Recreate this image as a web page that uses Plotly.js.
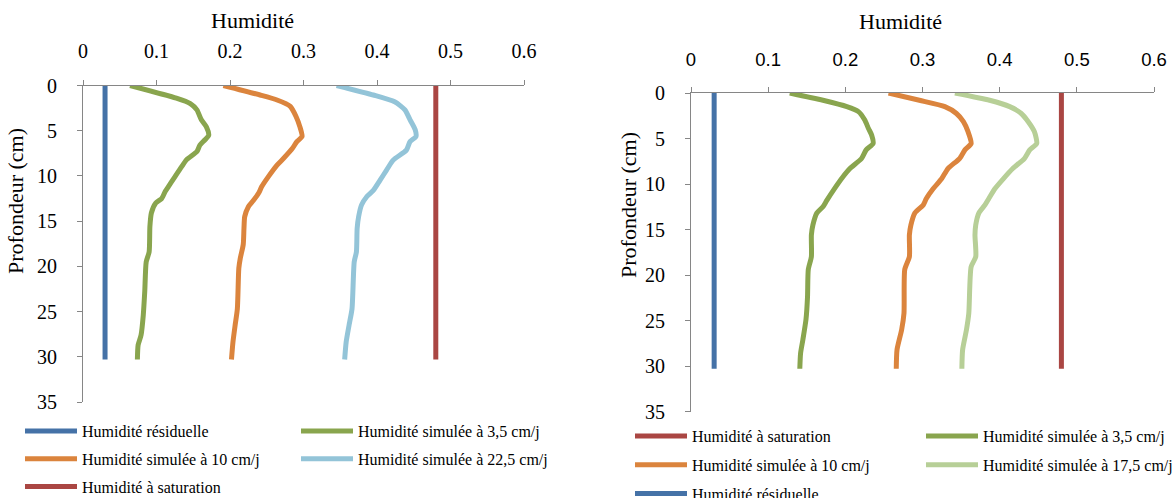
<!DOCTYPE html>
<html>
<head>
<meta charset="utf-8">
<script src="https://cdn.plot.ly/plotly-3.0.1.min.js"></script>
<style>
  html, body { margin: 0; padding: 0; background: #ffffff; }
  #chart { width: 1172px; height: 498px; }
</style>
</head>
<body>
<div id="chart"></div>
<script>
// Profils d'humidité simulés (profondeur en cm, humidité volumique)

// Bornes communes
const depthBounds = [0, 30.3];
const humResiduelle = [0.03, 0.03];
const humSaturation = [0.48, 0.48];

// Graphique de gauche
const depthA35 = [0, 1.4, 2.0, 2.7, 3.8, 4.6, 5.5, 6.0, 6.6, 7.3, 8.2, 9.0, 10.1, 11.2, 11.7, 12.5, 13.0, 14.1, 15.6, 18.4, 19.5, 22.8, 25.4, 27.6, 28.7, 30.3];
const humA35   = [0.064, 0.127, 0.146, 0.155, 0.161, 0.168, 0.171, 0.166, 0.159, 0.155, 0.141, 0.134, 0.125, 0.116, 0.112, 0.107, 0.099, 0.093, 0.091, 0.090, 0.086, 0.084, 0.082, 0.079, 0.075, 0.074];

const depthA10 = [0, 1.05, 1.6, 2.3, 3.45, 4.55, 5.65, 6.2, 6.95, 8.05, 8.8, 10.1, 11.2, 11.9, 12.7, 13.4, 14.5, 15.8, 17.6, 19.1, 20.2, 24.7, 26.5, 28.4, 30.3];
const humA10   = [0.191, 0.241, 0.264, 0.282, 0.290, 0.295, 0.298, 0.291, 0.285, 0.273, 0.264, 0.252, 0.243, 0.239, 0.232, 0.225, 0.220, 0.219, 0.218, 0.214, 0.212, 0.210, 0.207, 0.204, 0.202];

const depthA225 = [0, 1.05, 1.8, 2.7, 3.8, 4.9, 5.65, 6.2, 7.15, 8.25, 9.35, 10.5, 11.6, 12.3, 13.2, 14.5, 15.8, 18.4, 19.5, 24.7, 26.5, 28.4, 30.3];
const humA225   = [0.345, 0.395, 0.424, 0.438, 0.445, 0.452, 0.453, 0.445, 0.440, 0.422, 0.413, 0.404, 0.395, 0.386, 0.379, 0.375, 0.373, 0.372, 0.369, 0.366, 0.362, 0.358, 0.356];

// Graphique de droite
const depthB35 = [0, 0.8, 1.5, 2.05, 2.95, 3.9, 4.6, 5.55, 6.25, 7.2, 8.3, 9.2, 10.5, 11.8, 12.5, 13.2, 14.5, 15.6, 18.0, 19.4, 22.4, 24.9, 27.1, 28.6, 30.3];
const humB35   = [0.128, 0.171, 0.202, 0.217, 0.225, 0.230, 0.234, 0.236, 0.227, 0.221, 0.206, 0.197, 0.186, 0.176, 0.171, 0.163, 0.158, 0.156, 0.156, 0.152, 0.151, 0.149, 0.145, 0.142, 0.141];

const depthB10 = [0, 0.8, 1.5, 2.25, 3.15, 4.25, 5.55, 6.25, 7.2, 8.3, 9.4, 10.5, 11.6, 12.3, 13.2, 14.5, 15.6, 18.0, 19.4, 24.2, 26.0, 28.2, 30.3];
const humB10   = [0.256, 0.296, 0.329, 0.344, 0.353, 0.359, 0.363, 0.355, 0.348, 0.333, 0.325, 0.314, 0.305, 0.301, 0.290, 0.285, 0.283, 0.283, 0.277, 0.276, 0.273, 0.267, 0.266];

const depthB175 = [0, 0.8, 1.5, 2.25, 3.15, 4.25, 5.55, 6.25, 7.2, 8.3, 9.4, 10.5, 11.6, 12.3, 13.2, 14.5, 15.6, 18.0, 19.1, 24.2, 26.0, 28.2, 30.3];
const humB175   = [0.342, 0.387, 0.413, 0.428, 0.437, 0.445, 0.448, 0.439, 0.432, 0.417, 0.405, 0.394, 0.386, 0.381, 0.373, 0.369, 0.368, 0.369, 0.363, 0.360, 0.357, 0.352, 0.351];

const xTicks = [0, 0.1, 0.2, 0.3, 0.4, 0.5, 0.6];
const xTickText = ['0', '0.1', '0.2', '0.3', '0.4', '0.5', '0.6'];
const yTicks = [0, 5, 10, 15, 20, 25, 30, 35];

const names = {
  res: 'Humidité résiduelle',
  sat: 'Humidité à saturation',
  s35: 'Humidité simulée à 3,5 cm/j',
  s10: 'Humidité simulée à 10 cm/j',
  s225: 'Humidité simulée à 22,5 cm/j',
  s175: 'Humidité simulée à 17,5 cm/j'
};

const colors = {
  res: '#4572A7',
  sat: '#AA4643',
  s35: '#89A54E',
  s10: '#DB843D',
  s225: '#93C4D8',
  s175: '#B7CF97'
};

const SERIF = 'Liberation Serif, Times New Roman, serif';
const SANS = 'Liberation Sans, Arial, sans-serif';
const W = 1172, H = 498;

function line(x, y, key, xa, ya, legendId, group) {
  return {
    type: 'scatter', mode: 'lines',
    x: x, y: y, name: names[key],
    xaxis: xa, yaxis: ya,
    legend: legendId, legendgroup: group,
    line: { color: colors[key], width: 5, shape: 'spline', smoothing: 0.6 }
  };
}

const traces = [
  // gauche
  line(humResiduelle, depthBounds, 'res', 'x', 'y', 'legend', 'a1'),
  line(humA10, depthA10, 's10', 'x', 'y', 'legend', 'a2'),
  line(humSaturation, depthBounds, 'sat', 'x', 'y', 'legend', 'a3'),
  line(humA35, depthA35, 's35', 'x', 'y', 'legend2', 'b1'),
  line(humA225, depthA225, 's225', 'x', 'y', 'legend2', 'b2'),
  // droite
  line(humSaturation, depthBounds, 'sat', 'x2', 'y2', 'legend3', 'c1'),
  line(humB10, depthB10, 's10', 'x2', 'y2', 'legend3', 'c2'),
  line(humResiduelle, depthBounds, 'res', 'x2', 'y2', 'legend3', 'c3'),
  line(humB35, depthB35, 's35', 'x2', 'y2', 'legend4', 'd1'),
  line(humB175, depthB175, 's175', 'x2', 'y2', 'legend4', 'd2')
];

function xAxis(domain, font, anchor) {
  return {
    domain: domain, anchor: anchor, side: 'top',
    range: [0, 0.6], tickvals: xTicks, ticktext: xTickText,
    showline: true, linecolor: '#868686', linewidth: 1,
    ticks: 'outside', ticklen: 5, tickcolor: '#868686',
    ticklabelstandoff: 14,
    showgrid: false, zeroline: false, fixedrange: true,
    tickfont: font
  };
}

function yAxis(domain, anchor) {
  return {
    domain: domain, anchor: anchor,
    range: [35, 0], tickvals: yTicks,
    showline: true, linecolor: '#868686', linewidth: 1,
    ticks: 'outside', ticklen: 5, tickcolor: '#868686',
    ticklabelstandoff: 16,
    showgrid: false, zeroline: false, fixedrange: true,
    tickfont: { family: SERIF, size: 20, color: '#000' }
  };
}

function legend(xPx, yPx, gap) {
  return {
    x: xPx / W, y: 1 - yPx / H, xanchor: 'left', yanchor: 'top',
    orientation: 'v', bgcolor: 'rgba(0,0,0,0)', borderwidth: 0,
    traceorder: 'grouped', tracegroupgap: gap, itemwidth: 52,
    itemsizing: 'constant',
    font: { family: SERIF, size: 16, color: '#000' }
  };
}

function annot(text, xPx, yPx, angle, size) {
  return {
    text: text, xref: 'paper', yref: 'paper',
    x: xPx / W, y: 1 - yPx / H, xanchor: 'center', yanchor: 'middle',
    showarrow: false, textangle: angle || 0,
    font: { family: SERIF, size: size, color: '#000' }
  };
}

const layout = {
  width: W, height: H,
  font: { family: SERIF },
  margin: { l: 0, r: 0, t: 0, b: 0, autoexpand: false },
  paper_bgcolor: '#ffffff', plot_bgcolor: 'rgba(0,0,0,0)',
  showlegend: true,
  xaxis: xAxis([83 / W, 524 / W], { family: SERIF, size: 20, color: '#000' }, 'y'),
  yaxis: yAxis([1 - 402 / H, 1 - 85.5 / H], 'x'),
  xaxis2: xAxis([691 / W, 1154 / W], { family: SANS, size: 18.5, color: '#000' }, 'y2'),
  yaxis2: yAxis([1 - 411.5 / H, 1 - 93 / H], 'x2'),
  legend: legend(20, 414, 4),
  legend2: legend(296, 414, 4),
  legend3: legend(630, 419, 5),
  legend4: legend(921, 419, 5),
  annotations: [
    annot('Humidité', 252, 21, 0, 22),
    annot('Humidité', 900, 22, 0, 22),
    annot('Profondeur (cm)', 15, 201, -90, 22),
    annot('Profondeur (cm)', 628, 205, -90, 22)
  ]
};

Plotly.newPlot('chart', traces, layout, { displayModeBar: false, staticPlot: true });
</script>
</body>
</html>
